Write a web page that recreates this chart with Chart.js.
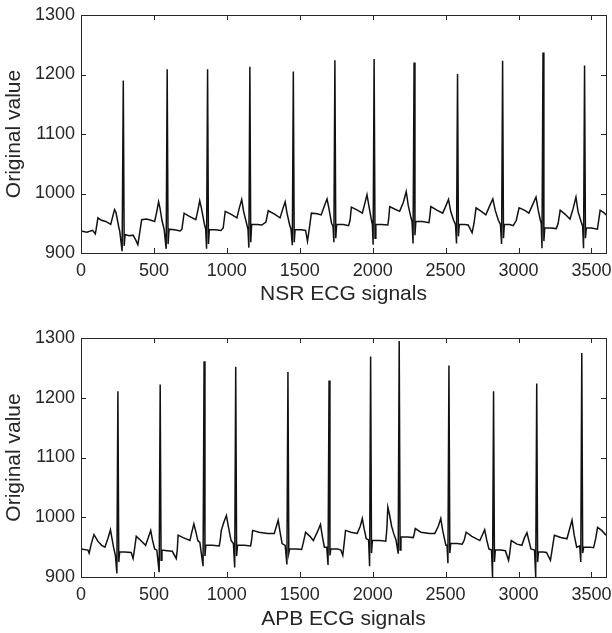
<!DOCTYPE html>
<html lang="en">
<head>
  <meta charset="UTF-8">
  <title>NSR and APB ECG signals</title>
  <style>
    body {
      margin: 0;
      width: 612px;
      height: 633px;
      background: #fff;
      position: relative;
      overflow: hidden;
    }
    .panel {
      position: absolute;
      left: 0;
      width: 612px;
    }
    #nsrPanel { top: 0; height: 316px; }
    #apbPanel { top: 316px; height: 317px; }
  </style>
</head>
<body>
  <div class="panel" id="nsrPanel"><canvas id="nsrChart"></canvas></div>
  <div class="panel" id="apbPanel"><canvas id="apbChart"></canvas></div>

  <script src="https://cdn.jsdelivr.net/npm/chart.js"></script>
  <script>
    // axis ticks
    const xTicks = [0, 500, 1000, 1500, 2000, 2500, 3000, 3500];
    const yTicks = [900, 1000, 1100, 1200, 1300];

    // NSR trace (sample index / value), one line per beat
    const nsrSample = [
      0, 40, 80, 98, 104, 116, 140, 170, 204, 218, 230, 240, 258, 266, 282, 290, 296, 302,
      330, 357, 375, 390, 400, 416, 450, 480, 505, 520, 532, 542, 555, 570, 584, 591, 597, 604,
      640, 680, 692, 707, 740, 787, 800, 814, 826, 845, 855, 861, 868, 874, 880,
      920, 960, 975, 989, 1030, 1069, 1085, 1102, 1115, 1135, 1145, 1151, 1158, 1164, 1170,
      1210, 1240, 1268, 1284, 1330, 1365, 1385, 1400, 1412, 1430, 1440, 1449, 1456, 1462, 1468,
      1510, 1540, 1553, 1565, 1580, 1620, 1647, 1670, 1687, 1700, 1718, 1728, 1734, 1741, 1747, 1753,
      1800, 1835, 1845, 1854, 1895, 1929, 1948, 1961, 1975, 1992, 1998, 2003, 2010, 2016, 2022,
      2060, 2104, 2110, 2117, 2150, 2185, 2210, 2230, 2244, 2262, 2270, 2277, 2284, 2290, 2296,
      2340, 2386, 2392, 2399, 2440, 2480, 2500, 2520, 2535, 2555, 2568, 2575, 2582, 2588, 2594,
      2630, 2655, 2682, 2695, 2709, 2745, 2776, 2800, 2824, 2840, 2862, 2876, 2884, 2891, 2897, 2903,
      2940, 2964, 2985, 3004, 3040, 3071, 3095, 3120, 3135, 3150, 3156, 3161, 3168, 3174, 3180,
      3220, 3259, 3272, 3286, 3320, 3353, 3375, 3394, 3408, 3430, 3440, 3446, 3453, 3459, 3465,
      3500, 3541, 3550, 3560, 3585, 3600
    ];
    const nsrValue = [
      937, 935, 938, 932, 940, 959, 955, 953, 948, 962, 973, 968, 945, 936, 903, 1190, 912, 931,
      929, 930, 922, 914, 930, 956, 957, 955, 953, 970, 986, 975, 955, 940, 907, 1209, 915, 940,
      939, 937, 940, 967, 962, 956, 970, 988, 975, 950, 940, 907, 1209, 915, 939,
      939, 938, 942, 970, 965, 959, 975, 990, 970, 950, 940, 909, 1213, 918, 948,
      948, 947, 952, 971, 965, 959, 975, 986, 968, 948, 940, 913, 1205, 918, 939,
      939, 938, 920, 940, 967, 966, 964, 980, 991, 975, 950, 945, 918, 1224, 925, 948,
      948, 946, 955, 977, 972, 967, 985, 998, 978, 955, 948, 914, 1226, 925, 948,
      948, 947, 958, 978, 974, 970, 985, 1003, 980, 960, 953, 916, 1220, 930, 953,
      953, 951, 962, 978, 972, 967, 978, 990, 970, 955, 948, 916, 1201, 928, 948,
      948, 947, 934, 950, 976, 970, 964, 978, 991, 972, 955, 948, 915, 1223, 925, 948,
      948, 946, 955, 976, 972, 967, 980, 994, 972, 955, 950, 908, 1237, 920, 942,
      942, 941, 950, 972, 965, 957, 975, 994, 970, 952, 945, 908, 1215, 925, 942,
      942, 940, 955, 972, 968, 964
    ];

    // APB trace
    const apbSample = [
      0, 48, 56, 70, 89, 115, 142, 164, 185, 202, 212, 223, 236, 246, 253, 259, 265,
      300, 344, 357, 366, 379, 410, 443, 460, 478, 490, 505, 520, 536, 543, 549, 555,
      590, 626, 653, 660, 666, 700, 747, 760, 774, 788, 801, 815, 837, 844, 850, 856,
      900, 948, 955, 962, 980, 997, 1010, 1029, 1045, 1054, 1061, 1067, 1073,
      1120, 1163, 1170, 1177, 1220, 1280, 1325, 1340, 1352, 1365, 1379, 1400, 1412, 1419, 1425, 1431,
      1480, 1513, 1525, 1540, 1570, 1593, 1620, 1642, 1655, 1669, 1685, 1694, 1701, 1707, 1713,
      1760, 1782, 1795, 1804, 1814, 1850, 1894, 1915, 1929, 1942, 1956, 1972, 1979, 1986, 1992, 1998,
      2050, 2090, 2097, 2104, 2115, 2130, 2144, 2160, 2175, 2182, 2188, 2194,
      2240, 2278, 2285, 2292, 2330, 2390, 2426, 2450, 2467, 2480, 2502, 2510, 2516, 2523, 2529, 2535,
      2580, 2614, 2628, 2641, 2680, 2735, 2755, 2768, 2782, 2797, 2815, 2822, 2829, 2835, 2841,
      2880, 2910, 2932, 2940, 2950, 2990, 3023, 3040, 3058, 3072, 3085, 3110, 3118, 3125, 3131, 3137,
      3170, 3192, 3219, 3230, 3246, 3290, 3332, 3350, 3367, 3382, 3399, 3420, 3427, 3434, 3440, 3447,
      3490, 3515, 3530, 3542, 3570, 3600
    ];
    const apbValue = [
      947, 945, 940, 955, 971, 960, 953, 950, 965, 979, 965, 950, 936, 906, 1211, 925, 942,
      942, 941, 931, 945, 968, 961, 953, 965, 978, 962, 947, 945, 908, 1222, 928, 945,
      944, 943, 931, 945, 970, 966, 961, 975, 989, 975, 961, 958, 918, 1261, 935, 953,
      953, 952, 962, 978, 992, 1003, 985, 961, 956, 916, 1252, 935, 953,
      953, 952, 962, 978, 975, 973, 973, 985, 995, 975, 956, 953, 921, 1243, 940, 947,
      947, 946, 958, 975, 968, 961, 975, 988, 968, 950, 950, 920, 1229, 936, 947,
      947, 945, 936, 955, 978, 975, 973, 985, 998, 980, 964, 962, 918, 1269, 940, 961,
      961, 960, 980, 1017, 1005, 985, 973, 962, 939, 1295, 945, 967,
      967, 966, 972, 981, 975, 973, 973, 985, 998, 978, 953, 953, 923, 1254, 940, 956,
      956, 955, 962, 975, 968, 961, 972, 979, 962, 947, 945, 900, 1211, 925, 945,
      945, 944, 928, 940, 961, 955, 953, 965, 974, 960, 947, 945, 900, 1224, 925, 942,
      942, 941, 928, 945, 970, 966, 964, 980, 995, 970, 950, 952, 925, 1275, 940, 950,
      950, 949, 965, 983, 978, 970
    ];

    const axisColor = '#262626';
    const fontFamily = '"Liberation Sans", Arial, Helvetica, sans-serif';

    // MATLAB style box with inward tick marks
    const boxTicks = {
      id: 'boxTicks',
      afterDraw(chart) {
        const { ctx, chartArea: a, scales } = chart;
        const len = 5;
        ctx.save();
        ctx.strokeStyle = axisColor;
        ctx.lineWidth = 1;
        ctx.beginPath();
        scales.x.ticks.forEach(t => {
          const px = Math.round(scales.x.getPixelForValue(t.value)) + 0.5;
          ctx.moveTo(px, a.bottom); ctx.lineTo(px, a.bottom - len);
          ctx.moveTo(px, a.top); ctx.lineTo(px, a.top + len);
        });
        scales.y.ticks.forEach(t => {
          const py = Math.round(scales.y.getPixelForValue(t.value)) + 0.5;
          ctx.moveTo(a.left, py); ctx.lineTo(a.left + len, py);
          ctx.moveTo(a.right, py); ctx.lineTo(a.right - len, py);
        });
        ctx.stroke();
        ctx.strokeRect(Math.round(a.left) + 0.5, Math.round(a.top) + 0.5,
          Math.round(a.right - a.left), Math.round(a.bottom - a.top));
        ctx.restore();
      }
    };

    function makeChart(canvasId, samples, values, xTitle, padTop, xHeight, titlePad) {
      const points = samples.map((s, i) => ({ x: s, y: values[i] }));
      return new Chart(document.getElementById(canvasId), {
        type: 'line',
        data: {
          datasets: [{
            data: points,
            borderColor: '#111',
            borderWidth: 1.5,
            pointRadius: 0,
            tension: 0,
            fill: false
          }]
        },
        options: {
          responsive: true,
          maintainAspectRatio: false,
          animation: false,
          events: [],
          layout: { padding: { top: padTop, right: 6, left: 0, bottom: 0 } },
          plugins: { legend: { display: false }, tooltip: { enabled: false } },
          scales: {
            x: {
              type: 'linear',
              min: 0,
              max: 3600,
              grid: { display: false, drawTicks: false },
              border: { display: false },
              afterBuildTicks: s => { s.ticks = xTicks.map(v => ({ value: v })); },
              afterFit: s => { s.height = xHeight; s.paddingLeft = 0; s.paddingRight = 0; },
              ticks: {
                color: axisColor,
                padding: 7,
                maxRotation: 0,
                autoSkip: false,
                callback: v => String(v),
                font: { family: fontFamily, size: 18 }
              },
              title: {
                display: true,
                text: xTitle,
                color: axisColor,
                padding: { top: 0, bottom: titlePad },
                font: { family: fontFamily, size: 21 }
              }
            },
            y: {
              min: 900,
              max: 1300,
              grid: { display: false, drawTicks: false },
              border: { display: false },
              afterBuildTicks: s => { s.ticks = yTicks.map(v => ({ value: v })); },
              afterFit: s => { s.width = 81; s.paddingTop = 0; s.paddingBottom = 0; },
              ticks: {
                color: axisColor,
                padding: 6,
                autoSkip: false,
                callback: v => String(v),
                font: { family: fontFamily, size: 18 }
              },
              title: {
                display: true,
                text: 'Original value',
                color: axisColor,
                padding: { top: 2, bottom: 0 },
                font: { family: fontFamily, size: 21 }
              }
            }
          }
        },
        plugins: [boxTicks]
      });
    }

    makeChart('nsrChart', nsrSample, nsrValue, 'NSR ECG signals', 15, 63, 9);
    makeChart('apbChart', apbSample, apbValue, 'APB ECG signals', 22, 56, 1);
  </script>
</body>
</html>
